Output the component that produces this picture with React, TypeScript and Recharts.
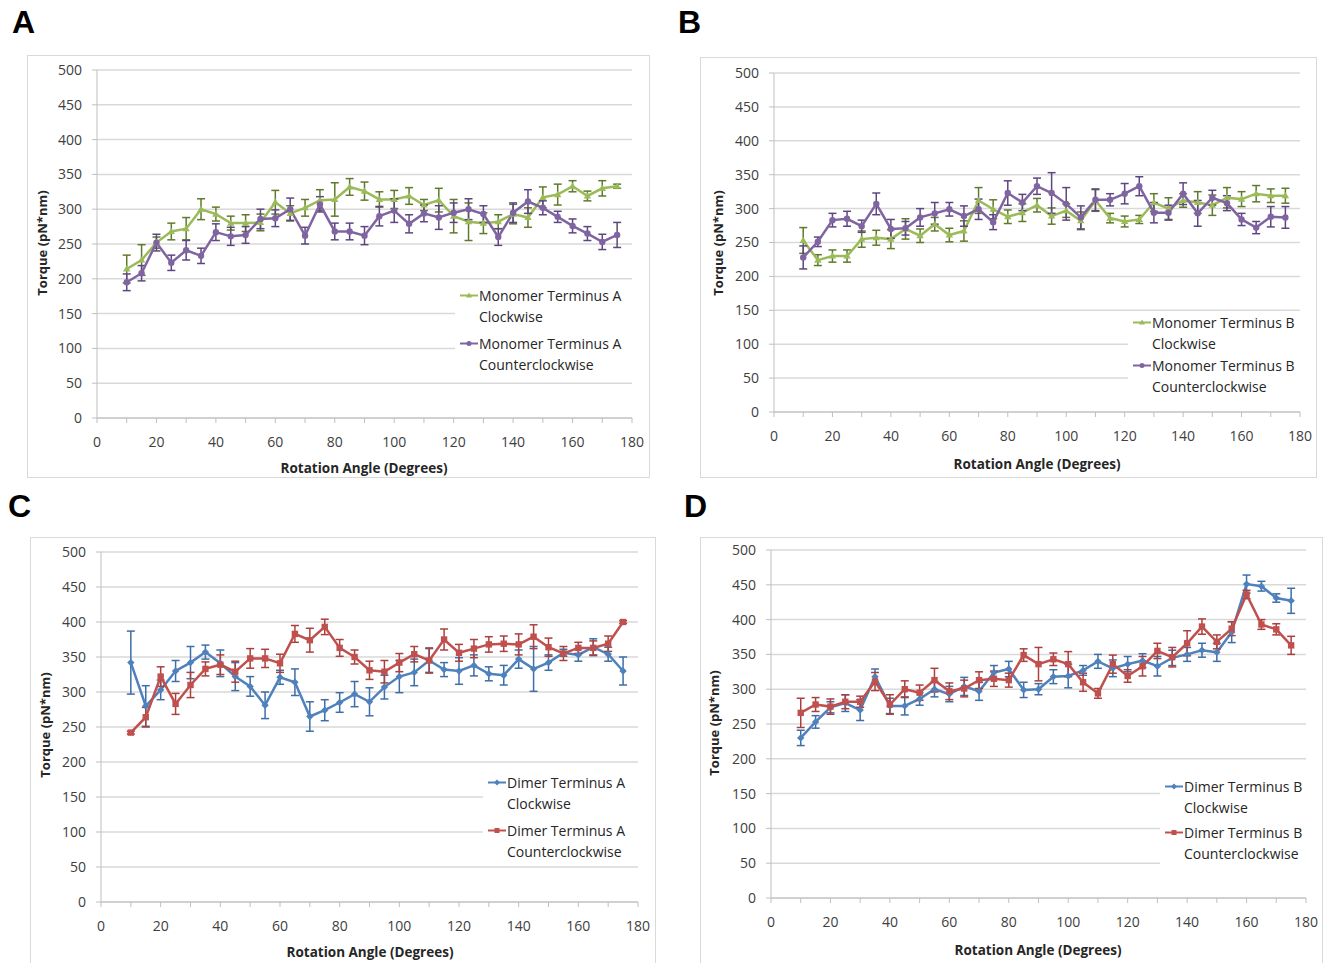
import React from "react";
import {
	LineChart,
	Line,
	XAxis,
	YAxis,
	CartesianGrid,
	ErrorBar,
	Legend,
} from "recharts";

const angles = [
	10, 15, 20, 25, 30, 35, 40, 45, 50, 55, 60, 65, 70, 75, 80, 85, 90, 95, 100,
	105, 110, 115, 120, 125, 130, 135, 140, 145, 150, 155, 160, 165, 170, 175,
];
const xTicks = [0, 10, 20, 30, 40, 50, 60, 70, 80, 90, 100, 110, 120, 130, 140, 150, 160, 170, 180];
const yTicks = [0, 50, 100, 150, 200, 250, 300, 350, 400, 450, 500];

// A - monomer terminus A
const monoACw = [214, 227, 252, 268, 272, 300, 293, 280, 280, 281, 310, 294, 302, 313, 314, 332, 326, 314, 314, 319, 306, 313, 290, 282, 280, 282, 293, 288, 317, 321, 333, 319, 330, 333];
const monoACwErr = [20, 22, 8, 12, 16, 15, 10, 10, 12, 12, 17, 11, 12, 15, 24, 12, 13, 11, 13, 12, 8, 17, 24, 27, 15, 10, 14, 14, 15, 15, 8, 7, 11, 3];
const monoACcw = [195, 208, 252, 223, 241, 233, 267, 261, 263, 286, 287, 300, 262, 307, 268, 268, 262, 290, 298, 279, 294, 288, 295, 300, 293, 260, 295, 311, 302, 289, 276, 265, 253, 263];
const monoACcwErr = [12, 11, 12, 11, 14, 11, 12, 13, 12, 14, 12, 16, 12, 11, 12, 12, 13, 14, 17, 13, 12, 17, 14, 15, 12, 12, 14, 17, 10, 8, 10, 10, 11, 18];

// B - monomer terminus B
const monoBCw = [253, 224, 230, 230, 255, 257, 255, 270, 260, 277, 261, 267, 312, 299, 288, 294, 305, 289, 297, 282, 312, 286, 281, 284, 309, 300, 312, 309, 305, 316, 314, 322, 319, 319];
const monoBCwErr = [19, 8, 9, 9, 12, 11, 14, 15, 10, 10, 10, 15, 19, 14, 10, 13, 10, 12, 10, 13, 16, 7, 8, 6, 13, 16, 10, 16, 15, 15, 11, 12, 10, 11];
const monoBCcw = [228, 251, 283, 285, 274, 307, 270, 271, 287, 293, 299, 289, 299, 280, 323, 309, 333, 323, 307, 287, 313, 313, 322, 333, 294, 294, 322, 293, 316, 308, 284, 272, 288, 287];
const monoBCcwErr = [17, 7, 10, 11, 9, 16, 14, 10, 13, 16, 10, 15, 15, 11, 18, 12, 12, 30, 24, 17, 16, 9, 15, 14, 15, 11, 16, 19, 11, 11, 9, 9, 15, 16];

// C - dimer terminus A
const dimerACw = [342, 280, 303, 330, 342, 357, 341, 322, 308, 281, 321, 314, 265, 274, 285, 297, 286, 307, 322, 328, 345, 332, 330, 338, 326, 324, 347, 333, 342, 356, 353, 364, 354, 330];
const dimerACwErr = [45, 29, 14, 15, 23, 10, 19, 20, 14, 19, 10, 19, 21, 15, 14, 18, 20, 17, 23, 19, 17, 10, 19, 15, 10, 14, 13, 32, 11, 5, 9, 12, 10, 20];
const dimerACcw = [242, 264, 322, 283, 310, 333, 339, 329, 348, 348, 341, 383, 374, 393, 363, 350, 331, 329, 342, 354, 345, 375, 356, 362, 368, 369, 368, 379, 364, 355, 363, 363, 369, 400];
const dimerACcwErr = [2, 14, 14, 15, 18, 10, 14, 15, 14, 13, 13, 12, 17, 11, 12, 10, 13, 16, 13, 11, 18, 15, 12, 13, 11, 11, 15, 17, 13, 10, 8, 10, 11, 2];

// D - dimer terminus B
const dimerBCw = [230, 253, 274, 280, 270, 318, 276, 276, 286, 300, 293, 304, 297, 324, 329, 299, 300, 318, 319, 327, 340, 330, 336, 341, 333, 345, 350, 356, 353, 382, 451, 448, 431, 427];
const dimerBCwErr = [11, 9, 8, 12, 15, 11, 11, 13, 9, 11, 11, 13, 13, 10, 11, 11, 8, 10, 17, 7, 10, 12, 11, 10, 14, 11, 10, 10, 13, 15, 13, 7, 6, 18];
const dimerBCcw = [266, 278, 275, 282, 282, 311, 278, 300, 295, 313, 297, 301, 313, 315, 313, 349, 336, 343, 336, 310, 294, 336, 319, 333, 355, 346, 366, 390, 368, 387, 436, 393, 386, 363];
const dimerBCcwErr = [21, 10, 11, 10, 8, 13, 14, 12, 11, 17, 12, 12, 12, 11, 10, 9, 24, 9, 18, 13, 7, 13, 9, 14, 11, 14, 18, 11, 10, 10, 6, 7, 8, 13];

const FONT = "'Open Sans', 'Liberation Sans', sans-serif";

type Shape = "triangle" | "circle" | "diamond" | "square";

function Marker({ shape, x, y, color, s = 3.2 }: { shape: Shape; x: number; y: number; color: string; s?: number }) {
	if (shape === "triangle")
		return <polygon points={`${x},${y - s - 0.5} ${x + s + 0.5},${y + s * 0.8} ${x - s - 0.5},${y + s * 0.8}`} fill={color} />;
	if (shape === "diamond")
		return <polygon points={`${x},${y - s - 0.5} ${x + s + 0.5},${y} ${x},${y + s + 0.5} ${x - s - 0.5},${y}`} fill={color} />;
	if (shape === "square")
		return <rect x={x - s} y={y - s} width={s * 2} height={s * 2} fill={color} />;
	return <circle cx={x} cy={y} r={s} fill={color} />;
}

const makeDot = (shape: Shape, color: string) => (props: any) => {
	const { cx, cy, index } = props;
	if (cx == null || cy == null) return <g key={`d-${index}`} />;
	return (
		<g key={`d-${index}`}>
			<Marker shape={shape} x={cx} y={cy} color={color} />
		</g>
	);
};

type Series = {
	label: string[];
	color: string;
	errColor: string;
	shape: Shape;
	values: number[];
	errors: number[];
};

type PanelProps = {
	letter: string;
	letterPos: { x: number; y: number };
	frame: { left: number; top: number; width: number; height: number };
	plot: { x0: number; x180: number; y500: number; y0: number };
	legend: { left: number; top: number; width: number; gap: number };
	yTitle: { x: number; y: number };
	xTitle: { x: number; y: number };
	series: Series[];
};

function Panel({ letter, letterPos, frame, plot, legend, yTitle, xTitle, series }: PanelProps) {
	const ox = frame.left + 1;
	const oy = frame.top + 1;
	const w = frame.width - 2;
	const h = frame.height - 2;
	const yAxisW = 50;
	const xAxisH = 40;
	const margin = {
		top: plot.y500 - oy,
		right: w - (plot.x180 - ox),
		left: plot.x0 - ox - yAxisW,
		bottom: h - (plot.y0 - oy) - xAxisH,
	};

	const data = angles.map((a, i) => ({
		angle: a,
		s0: series[0].values[i],
		e0: series[0].errors[i],
		s1: series[1].values[i],
		e1: series[1].errors[i],
	}));

	const legendContent = () => (
		<div style={{ background: "#fff", fontFamily: FONT, fontSize: 14, color: "#262626", lineHeight: "21px", padding: "0 0 0 4px", textAlign: "left" }}>
			{series.map((s, i) => (
				<div key={i} style={{ display: "flex", marginTop: i === 0 ? 0 : legend.gap }}>
					<svg width={20} height={21} style={{ flex: "none" }}>
						<line x1={1} y1={10.5} x2={19} y2={10.5} stroke={s.color} strokeWidth={2} />
						<Marker shape={s.shape} x={10} y={10.5} color={s.color} s={2.5} />
					</svg>
					<div>
						{s.label.map((t, j) => (
							<div key={j}>{t}</div>
						))}
					</div>
				</div>
			))}
		</div>
	);

	return (
		<>
			<div
				style={{
					position: "absolute",
					left: letterPos.x,
					top: letterPos.y,
					fontFamily: "'Liberation Sans', Arial, sans-serif",
					fontWeight: "bold",
					fontSize: 32,
					lineHeight: "32px",
					color: "#000",
				}}
			>
				{letter}
			</div>
			<div
				style={{
					position: "absolute",
					left: frame.left,
					top: frame.top,
					width: frame.width - 2,
					height: frame.height - 2,
					border: "1px solid #d9d9d9",
					background: "#fff",
				}}
			>
				<LineChart width={w} height={h} data={data} margin={margin} style={{ overflow: "visible" }}>
					<CartesianGrid vertical={false} stroke="#d9d9d9" strokeWidth={1.5} />
					<XAxis
						type="number"
						dataKey="angle"
						domain={[0, 180]}
						ticks={xTicks}
						interval={0}
						height={xAxisH}
						tickFormatter={(v: number) => (v % 20 === 0 ? String(v) : "")}
						stroke="#bfbfbf"
						tickSize={5}
						tickMargin={14}
						tick={{ fill: "#404040", fontSize: 14, fontFamily: FONT }}
					/>
					<YAxis
						type="number"
						domain={[0, 500]}
						ticks={yTicks}
						interval={0}
						width={yAxisW}
						stroke="#bfbfbf"
						tickSize={5}
						tickMargin={10}
						tick={{ fill: "#404040", fontSize: 14, fontFamily: FONT }}
					/>
					<Legend
						layout="horizontal"
						align="center"
						verticalAlign="middle"
						content={legendContent}
						wrapperStyle={{ position: "absolute", left: legend.left - ox, top: legend.top - oy, width: legend.width, bottom: "auto", right: "auto" }}
					/>
					{series.map((s, i) => (
						<Line
							key={i}
							type="linear"
							dataKey={`s${i}`}
							stroke={s.color}
							strokeWidth={2.5}
							dot={makeDot(s.shape, s.color)}
							activeDot={false}
							isAnimationActive={false}
						>
							<ErrorBar dataKey={`e${i}`} direction="y" width={4} stroke={s.errColor} strokeWidth={1.5} />
						</Line>
					))}
				</LineChart>
			</div>
			<div
				style={{
					position: "absolute",
					left: xTitle.x,
					top: xTitle.y,
					transform: "translate(-50%, -50%)",
					whiteSpace: "nowrap",
					fontFamily: FONT,
					fontWeight: "bold",
					fontSize: 13.5,
					color: "#262626",
				}}
			>
				Rotation Angle (Degrees)
			</div>
			<div
				style={{
					position: "absolute",
					left: yTitle.x,
					top: yTitle.y,
					transform: "translate(-50%, -50%) rotate(-90deg)",
					whiteSpace: "nowrap",
					fontFamily: FONT,
					fontWeight: "bold",
					fontSize: 13,
					color: "#262626",
				}}
			>
				Torque (pN*nm)
			</div>
		</>
	);
}

const GREEN = "#9bbb59";
const PURPLE = "#8064a2";
const BLUE = "#4f81bd";
const RED = "#c0504d";

export default function App() {
	return (
		<div style={{ position: "absolute", left: 0, top: 0, width: 1324, height: 963, background: "#fff", overflow: "hidden" }}>
			<Panel
				letter="A"
				letterPos={{ x: 12, y: 6 }}
				frame={{ left: 27, top: 55, width: 623, height: 423 }}
				plot={{ x0: 97, x180: 632, y500: 70, y0: 418 }}
				legend={{ left: 455, top: 285, width: 177, gap: 6 }}
				yTitle={{ x: 42, y: 243 }}
				xTitle={{ x: 364, y: 468 }}
				series={[
					{ label: ["Monomer Terminus A", "Clockwise"], color: GREEN, errColor: "#5f7a2c", shape: "triangle", values: monoACw, errors: monoACwErr },
					{ label: ["Monomer Terminus A", "Counterclockwise"], color: PURPLE, errColor: "#5e4680", shape: "circle", values: monoACcw, errors: monoACcwErr },
				]}
			/>
			<Panel
				letter="B"
				letterPos={{ x: 678, y: 6 }}
				frame={{ left: 700, top: 57, width: 617, height: 421 }}
				plot={{ x0: 774, x180: 1300, y500: 73, y0: 412 }}
				legend={{ left: 1128, top: 312, width: 172, gap: 1 }}
				yTitle={{ x: 718, y: 243 }}
				xTitle={{ x: 1037, y: 464 }}
				series={[
					{ label: ["Monomer Terminus B", "Clockwise"], color: GREEN, errColor: "#5f7a2c", shape: "triangle", values: monoBCw, errors: monoBCwErr },
					{ label: ["Monomer Terminus B", "Counterclockwise"], color: PURPLE, errColor: "#5e4680", shape: "circle", values: monoBCcw, errors: monoBCcwErr },
				]}
			/>
			<Panel
				letter="C"
				letterPos={{ x: 8, y: 490 }}
				frame={{ left: 30, top: 537, width: 626, height: 428 }}
				plot={{ x0: 101, x180: 638, y500: 552, y0: 902 }}
				legend={{ left: 483, top: 772, width: 155, gap: 6 }}
				yTitle={{ x: 45, y: 725 }}
				xTitle={{ x: 370, y: 952 }}
				series={[
					{ label: ["Dimer Terminus A", "Clockwise"], color: BLUE, errColor: "#3d6ea8", shape: "diamond", values: dimerACw, errors: dimerACwErr },
					{ label: ["Dimer Terminus A", "Counterclockwise"], color: RED, errColor: "#a9403d", shape: "square", values: dimerACcw, errors: dimerACcwErr },
				]}
			/>
			<Panel
				letter="D"
				letterPos={{ x: 684, y: 490 }}
				frame={{ left: 700, top: 537, width: 623, height: 428 }}
				plot={{ x0: 771, x180: 1306, y500: 550, y0: 898 }}
				legend={{ left: 1160, top: 776, width: 146, gap: 4 }}
				yTitle={{ x: 714, y: 723 }}
				xTitle={{ x: 1038, y: 950 }}
				series={[
					{ label: ["Dimer Terminus B", "Clockwise"], color: BLUE, errColor: "#3d6ea8", shape: "diamond", values: dimerBCw, errors: dimerBCwErr },
					{ label: ["Dimer Terminus B", "Counterclockwise"], color: RED, errColor: "#a9403d", shape: "square", values: dimerBCcw, errors: dimerBCcwErr },
				]}
			/>
		</div>
	);
}
